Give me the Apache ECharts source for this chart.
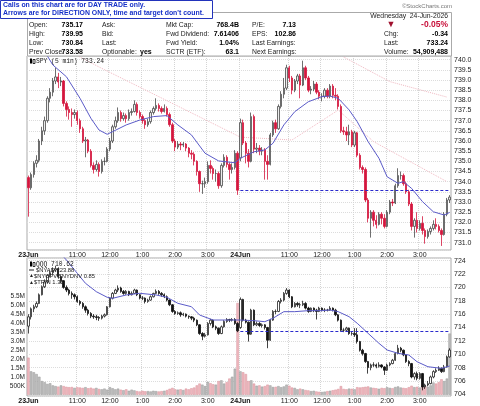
<!DOCTYPE html>
<html lang="en">
<head>
<meta charset="UTF-8">
<title>SPY (5 min)</title>
<script src="https://cdn.jsdelivr.net/npm/echarts@6.0.0/dist/echarts.min.js"></script>
<style>html,body{margin:0;background:#fff}#main{width:480px;height:406px}</style>
</head>
<body>
<div id="main"></div>
<script type="text/javascript">
// SPY 5-min bars: [open, close, low, high], 23Jun (0-77) and 24Jun (78-155)
var spyBars = [
[734.20,733.70,732.28,734.30],[733.70,734.35,733.60,734.45],[734.35,734.90,734.20,735.00],[734.90,735.05,734.70,735.30],
[735.05,736.00,734.95,736.10],[736.00,736.50,735.80,736.70],[736.50,737.00,736.30,737.20],[737.00,738.10,736.90,738.20],
[738.10,738.40,737.90,738.60],[738.40,738.95,738.20,739.10],[738.95,739.15,738.80,739.60],[739.15,738.90,738.60,739.35],
[738.90,738.95,738.70,739.15],[738.95,737.85,737.70,739.00],[737.85,737.55,737.20,737.95],[737.55,737.40,737.05,737.70],
[737.40,737.30,736.70,737.60],[737.30,737.40,737.10,737.55],[737.40,737.00,736.80,737.50],[737.00,736.60,736.40,737.10],
[736.60,736.00,735.90,736.70],[736.00,736.05,735.20,736.20],[736.05,735.50,735.40,736.10],[735.50,734.80,734.70,735.60],
[734.80,734.60,734.40,734.95],[734.60,734.85,734.50,735.05],[734.85,734.50,734.25,734.95],[734.50,735.00,734.40,735.10],
[735.00,735.00,734.80,735.20],[735.00,735.60,734.95,735.70],[735.60,736.00,735.50,736.15],[736.00,736.70,735.90,736.80],
[736.70,737.00,736.60,737.20],[737.00,737.40,736.90,737.65],[737.40,737.10,736.95,737.50],[737.10,737.25,737.00,737.40],
[737.25,737.10,736.90,737.35],[737.10,737.40,737.00,737.55],[737.40,737.45,737.25,737.60],[737.45,737.80,737.40,738.00],
[737.80,737.40,737.25,737.90],[737.40,737.20,737.10,737.50],[737.20,737.00,736.85,737.30],[737.00,736.80,736.60,737.10],
[736.80,736.95,736.70,737.10],[736.95,737.40,736.85,737.50],[737.40,737.60,737.30,737.70],[737.60,737.75,737.50,738.10],
[737.75,737.60,737.45,737.85],[737.60,737.45,737.35,737.70],[737.45,737.60,737.40,737.80],[737.60,737.30,737.20,737.70],
[737.30,736.80,736.70,737.40],[736.80,736.00,735.90,736.90],[736.00,735.70,735.50,736.10],[735.70,735.85,735.60,736.00],
[735.85,735.80,735.55,735.95],[735.80,735.85,735.70,735.95],[735.85,735.65,735.50,735.90],[735.65,735.40,735.20,735.70],
[735.40,735.35,735.10,735.55],[735.35,735.00,734.80,735.45],[735.00,734.50,734.30,735.05],[734.50,733.90,733.50,734.55],
[733.90,733.90,733.40,734.05],[733.90,734.00,733.70,734.20],[734.00,734.80,733.90,735.00],[734.80,734.65,734.40,735.05],
[734.65,734.40,734.10,734.75],[734.40,734.40,734.00,734.60],[734.40,733.80,733.65,734.50],[733.80,734.80,733.70,734.90],
[734.80,735.20,734.70,735.35],[735.20,734.85,734.70,735.30],[734.85,734.60,734.10,734.95],[734.60,734.70,734.40,734.90],
[734.70,735.40,734.60,735.55],[735.40,733.58,733.35,735.50],
[735.17,736.90,735.00,737.10],[736.90,735.90,735.80,737.05],[735.90,735.40,734.90,736.00],[735.40,735.00,734.70,735.60],
[735.00,737.20,734.95,737.40],[737.20,735.60,735.40,737.30],[735.60,735.65,735.40,735.90],[735.65,735.50,735.30,735.80],
[735.50,735.55,735.30,735.70],[735.55,735.00,734.10,735.65],[735.00,734.85,734.10,735.30],[734.85,736.30,734.80,736.40],
[736.30,736.90,736.20,737.00],[736.90,736.60,736.40,737.05],[736.60,737.70,736.55,737.80],[737.70,738.30,737.60,738.45],
[738.30,738.60,738.10,739.10],[738.60,739.60,738.50,739.75],[739.60,739.10,738.90,739.70],[739.10,738.50,738.30,739.20],
[738.50,738.95,738.40,739.05],[738.95,739.20,738.80,739.30],[739.20,738.75,738.10,739.30],[738.75,739.60,738.70,739.95],
[739.60,739.10,739.00,739.70],[739.10,738.50,738.40,739.20],[738.50,738.55,738.30,738.70],[738.55,738.80,738.45,738.95],
[738.80,738.40,738.30,738.90],[738.40,738.20,738.05,738.50],[738.20,738.20,737.95,738.35],[738.20,738.50,738.10,738.60],
[738.50,738.20,738.10,738.60],[738.20,738.70,738.10,738.80],[738.70,738.25,738.10,738.80],[738.25,738.20,738.00,738.60],
[738.20,737.70,737.55,738.30],[737.70,736.50,736.40,737.80],[736.50,736.45,736.30,736.70],[736.45,736.30,736.00,736.70],
[736.30,736.45,735.80,736.80],[736.45,735.80,735.70,736.55],[735.80,736.40,735.70,736.50],[736.40,735.30,735.20,736.45],
[735.30,734.70,734.60,735.40],[734.70,734.60,734.40,734.80],[734.60,733.10,733.00,734.70],[733.10,732.20,732.00,733.20],
[732.20,732.50,731.25,732.60],[732.50,732.10,731.80,732.60],[732.10,731.90,731.70,732.35],[731.90,732.40,731.85,732.50],
[732.40,732.20,731.90,732.50],[732.20,731.80,731.70,732.40],[731.80,732.50,731.75,732.60],[732.50,733.00,732.40,733.10],
[733.00,732.95,732.80,733.15],[732.95,733.80,732.90,733.90],[733.80,734.30,733.70,734.66],[734.30,734.30,734.10,734.50],
[734.30,733.90,733.80,734.40],[733.90,733.50,733.40,734.00],[733.50,732.90,732.80,733.60],[732.90,731.80,731.60,733.00],
[731.80,732.10,731.25,732.20],[732.10,731.70,731.50,732.50],[731.70,731.95,731.60,732.10],[731.95,731.60,731.40,732.30],
[731.60,731.30,730.95,731.70],[731.30,731.55,731.20,731.65],[731.55,731.70,731.40,731.80],[731.70,731.90,731.60,732.10],
[731.90,731.80,731.65,732.20],[731.80,731.60,731.50,731.90],[731.60,731.40,730.84,731.70],[731.40,732.40,731.35,732.50],
[732.40,733.10,732.30,733.20],[733.10,733.24,732.95,733.34]
];

// QQQ 5-min bars: [open, close, low, high]
var qqqBars = [
[714.2,715.6,713.1,716.0],[715.6,716.8,715.2,717.0],[716.8,717.1,716.3,717.4],[717.1,717.6,716.9,717.9],
[717.6,718.9,717.5,719.1],[718.9,720.1,718.8,720.3],[720.1,720.8,719.9,721.2],[720.8,721.8,720.6,722.0],
[721.8,722.2,721.5,722.5],[722.2,722.6,721.9,723.0],[722.6,722.8,722.3,723.2],[722.8,721.6,721.3,723.0],
[721.6,721.0,720.6,721.8],[721.0,720.0,719.8,721.1],[720.0,719.6,719.3,720.3],[719.6,719.1,718.8,719.8],
[719.1,718.9,718.3,719.4],[718.9,718.6,718.2,719.1],[718.6,717.9,717.7,718.8],[717.9,717.6,717.3,718.1],
[717.6,717.1,716.8,717.8],[717.1,716.6,716.2,717.3],[716.6,716.1,715.8,716.8],[716.1,715.7,715.4,716.3],
[715.7,715.6,715.3,716.0],[715.6,715.5,715.1,715.9],[715.5,715.4,715.0,715.7],[715.4,715.7,715.2,715.9],
[715.7,715.9,715.5,716.1],[715.9,717.1,715.8,717.2],[717.1,718.4,717.0,718.5],[718.4,719.1,718.2,719.3],
[719.1,719.6,719.0,719.8],[719.6,719.9,719.3,720.3],[719.9,719.4,719.2,720.1],[719.4,719.1,718.9,719.6],
[719.1,719.4,718.9,719.6],[719.4,718.9,718.7,719.5],[718.9,719.1,718.8,719.4],[719.1,719.6,719.0,719.8],
[719.6,718.9,718.7,719.7],[718.9,718.4,718.2,719.0],[718.4,718.4,718.1,718.7],[718.4,717.9,717.6,718.5],
[717.9,718.1,717.7,718.3],[718.1,718.6,718.0,718.8],[718.6,719.1,718.5,719.2],[719.1,719.4,719.0,719.7],
[719.4,719.1,718.9,719.6],[719.1,718.9,718.6,719.3],[718.9,718.6,718.4,719.1],[718.6,718.1,717.9,718.8],
[718.1,717.4,717.2,718.2],[717.4,716.4,716.2,717.5],[716.4,716.1,715.9,716.6],[716.1,716.2,715.9,716.4],
[716.2,715.9,715.6,716.4],[715.9,716.0,715.7,716.2],[716.0,715.7,715.5,716.1],[715.7,715.6,715.3,715.8],
[715.6,715.4,715.1,715.7],[715.4,715.1,714.8,715.6],[715.1,714.4,714.2,715.2],[714.4,713.1,712.9,714.5],
[713.1,712.7,712.1,713.3],[712.7,712.9,712.5,713.2],[712.9,714.6,712.8,714.8],[714.6,715.1,714.3,715.3],
[715.1,714.1,713.9,715.2],[714.1,713.9,713.6,714.3],[713.9,713.1,712.9,714.0],[713.1,714.1,713.0,714.3],
[714.1,714.9,714.0,715.1],[714.9,715.2,714.7,715.4],[715.2,715.1,714.8,715.3],[715.1,715.2,714.9,715.4],
[715.2,714.6,714.4,715.4],[714.6,713.5,713.3,714.8],
[714.0,718.2,713.8,718.5],[718.2,715.1,714.9,718.3],[715.1,714.8,714.6,715.3],[714.8,713.0,711.9,714.9],
[713.0,716.6,712.9,716.8],[716.6,714.4,714.2,716.7],[714.4,714.6,714.2,714.9],[714.6,714.3,714.1,714.8],
[714.3,714.4,714.0,714.6],[714.4,714.0,713.7,714.5],[714.0,712.1,710.9,714.1],[712.1,715.1,712.0,715.3],
[715.1,716.4,715.0,716.6],[716.4,716.4,716.0,716.7],[716.4,717.9,716.3,718.1],[717.9,718.1,717.6,718.4],
[718.1,719.1,717.9,719.3],[719.1,719.6,718.9,719.9],[719.6,718.6,718.4,719.7],[718.6,717.1,716.9,718.7],
[717.1,717.6,717.0,717.8],[717.6,717.4,717.1,717.8],[717.4,717.4,716.9,717.7],[717.4,717.6,717.2,718.0],
[717.6,716.9,716.7,717.8],[716.9,716.4,716.2,717.1],[716.4,716.9,716.3,717.0],[716.9,716.6,716.3,717.0],
[716.6,716.4,715.2,716.8],[716.4,716.9,716.3,717.1],[716.9,716.6,716.4,717.0],[716.6,716.6,716.3,716.9],
[716.6,716.6,716.4,716.8],[716.6,716.9,716.5,717.2],[716.9,716.6,716.4,717.0],[716.6,715.9,715.7,716.8],
[715.9,715.1,714.9,716.0],[715.1,713.6,713.4,715.2],[713.6,713.6,713.3,713.9],[713.6,713.9,713.4,714.1],
[713.9,713.1,712.9,714.0],[713.1,713.1,712.8,713.4],[713.1,712.9,712.6,713.9],[712.9,711.9,711.6,713.9],
[711.9,710.6,710.4,712.0],[710.6,710.1,709.8,710.8],[710.1,708.9,708.7,710.2],[708.9,708.0,707.1,709.0],
[708.0,708.4,707.6,708.6],[708.4,708.4,708.1,708.8],[708.4,708.2,707.9,708.6],[708.2,708.4,708.0,708.8],
[708.4,708.1,707.9,708.5],[708.1,707.6,706.9,708.2],[707.6,708.4,707.5,708.6],[708.4,708.6,708.2,708.8],
[708.6,709.1,708.5,709.3],[709.1,710.1,709.0,710.3],[710.1,710.9,710.0,711.4],[710.9,710.6,710.3,711.1],
[710.6,709.9,709.7,710.7],[709.9,708.9,708.7,710.0],[708.9,708.6,708.2,709.1],[708.6,706.6,706.4,708.7],
[706.6,707.1,706.2,707.3],[707.1,706.4,706.1,707.4],[706.4,707.1,706.2,707.3],[707.1,705.1,704.6,707.2],
[705.1,705.4,704.8,705.6],[705.4,705.6,705.2,706.0],[705.6,706.6,705.5,706.8],[706.6,707.4,706.4,707.6],
[707.4,707.6,707.2,707.9],[707.6,707.9,707.5,708.2],[707.9,707.4,707.2,708.0],[707.4,708.1,707.3,708.4],
[708.1,709.6,708.0,709.8],[709.6,710.62,709.5,710.9]
];

// SPY volume per bar, thousands of shares
var volumeK = [
2060,1300,1250,1150,1000,760,700,600,640,520,480,450,520,480,440,420,430,380,420,400,
380,420,360,390,340,380,320,300,340,280,420,360,300,340,280,250,300,220,280,240,
200,180,220,190,200,180,220,200,180,200,220,260,330,380,300,280,300,260,340,300,
360,400,520,620,560,480,720,640,580,560,760,800,620,700,900,1000,1450,5100,
1300,1250,1150,760,800,620,500,520,450,480,560,520,430,440,480,420,460,560,500,400,
380,300,340,300,260,240,200,220,180,160,150,170,200,220,250,280,320,480,320,300,
340,330,300,420,400,420,440,460,400,380,360,330,380,360,420,380,360,430,460,400,
380,360,420,500,420,440,400,520,480,440,520,680,620,700,860,760,900,3400
];

// moving averages: [bar index, value]
var spyMa = [[6,740.40],[9,739.74],[14,739.16],[19,738.10],[23,737.12],[26,736.54],[29,736.33],[31,736.46],[36,736.79],
  [41,737.03],[46,737.20],[51,737.25],[55,736.79],[60,736.30],[65,735.40],[70,735.02],[76,734.93],[78,735.15],
  [83,735.47],[87,735.56],[90,735.89],[94,736.79],[98,737.44],[103,737.93],[108,738.18],[111,738.21],[114,738.10],
  [118,737.53],[121,736.95],[125,735.97],[129,735.15],[132,734.24],[136,733.92],[138,734.00],[141,733.67],
  [145,733.02],[149,732.52],[153,732.36],[155,732.49]];
var spySlowA = [[18,740.20],[26,739.64],[78,736.19],[97,736.05],[114,737.52],[127,735.97],[154,734.00]];
var spySlowB = [[116,740.13],[133,738.92],[154,738.16]];
var qqqMa = [[12,725.0],[14,724.1],[18,722.11],[21,720.62],[25,719.36],[29,718.52],[31,718.37],[36,718.87],[41,719.12],
  [47,718.87],[51,718.52],[55,717.62],[60,717.11],[63,715.87],[68,715.12],[73,715.12],[78,715.12],[83,715.02],
  [87,714.87],[90,715.38],[94,716.37],[98,716.37],[103,716.52],[108,716.52],[111,716.62],[114,716.37],[118,715.62],
  [121,714.63],[125,713.13],[129,711.63],[132,710.63],[136,710.14],[140,709.88],[143,708.88],[147,708.13],
  [152,707.89],[155,708.24]];

var spyPrevClose = 733.58;
var qqqPrevClose = 713.5;

// x axis ticks
var tickIndex = [0, 18, 30, 42, 54, 66, 78, 96, 108, 120, 132, 144];
var tickText = ['23Jun', '11:00', '12:00', '1:00', '2:00', '3:00', '24Jun', '11:00', '12:00', '1:00', '2:00', '3:00'];

// header table
var rowY = [25, 34, 43, 52];
var col1Labels = ['Open:', 'High:', 'Low:', 'Prev Close:'];
var col1Vals = ['735.17', '739.95', '730.84', '733.58'];
var col2Labels = ['Ask:', 'Bid:', 'Last:', 'Optionable:'];
var col3Labels = ['Mkt Cap:', 'Fwd Dividend:', 'Fwd Yield:', 'SCTR (ETF):'];
var col3Vals = ['768.4B', '7.61406', '1.04%', '63.1'];
var col4Labels = ['P/E:', 'EPS:', 'Last Earnings:', 'Next Earnings:'];
var col4Vals = ['7.13', '102.86', '', ''];

var cats = [];
for (var i = 0; i < spyBars.length; i++) cats.push('b' + i);
var labelMap = {};
tickIndex.forEach(function (t, k) { labelMap['b' + t] = tickText[k]; });

var SANS = '"Liberation Sans", Arial, sans-serif';
var MONO = '"Liberation Mono", "DejaVu Sans Mono", monospace';

function txt(x, y, s, font, color, align) {
    return {type: 'text', x: x, y: y, silent: true, z: 20,
        style: {text: s, font: font, fill: color || '#222', textAlign: align || 'left', textVerticalAlign: 'middle'}};
}

var lblFont = '6.8px ' + SANS;
var valFont = 'bold 7px ' + SANS;
var gfx = [];
gfx.push({type: 'rect', shape: {x: 27.5, y: 12.5, width: 424, height: 43.5}, style: {fill: '#fff', stroke: '#aaa', lineWidth: 1}, z: 10});
for (var r = 0; r < 4; r++) {
    gfx.push(txt(29, rowY[r], col1Labels[r], lblFont));
    gfx.push(txt(83, rowY[r], col1Vals[r], valFont, '#000', 'right'));
    gfx.push(txt(102, rowY[r], col2Labels[r], lblFont));
    gfx.push(txt(166, rowY[r], col3Labels[r], lblFont));
    gfx.push(txt(239, rowY[r], col3Vals[r], valFont, '#000', 'right'));
    gfx.push(txt(252, rowY[r], col4Labels[r], lblFont));
    gfx.push(txt(296, rowY[r], col4Vals[r], valFont, '#000', 'right'));
}
gfx.push(txt(140, rowY[3], 'yes', valFont, '#000'));
gfx.push(txt(448, 16, 'Wednesday  24-Jun-2026', lblFont, '#222', 'right'));
gfx.push(txt(391, 25, '\u25BC', '9px ' + SANS, '#a0102e', 'center'));
gfx.push(txt(448, 25, '-0.05%', 'bold 8.5px ' + SANS, '#c8103a', 'right'));
gfx.push(txt(384, 34, 'Chg:', lblFont));
gfx.push(txt(448, 34, '-0.34', valFont, '#000', 'right'));
gfx.push(txt(384, 43, 'Last:', lblFont));
gfx.push(txt(448, 43, '733.24', valFont, '#000', 'right'));
gfx.push(txt(384, 52, 'Volume:', lblFont));
gfx.push(txt(448, 52, '54,909,488', valFont, '#000', 'right'));
gfx.push(txt(452, 6, '\u00A9StockCharts.com', '6px ' + SANS, '#777', 'right'));
// call-out box
gfx.push({type: 'rect', shape: {x: 0.5, y: 0.5, width: 212, height: 18}, style: {fill: '#fff', stroke: '#2233bb', lineWidth: 1}, z: 30});
gfx.push({type: 'text', x: 3, y: 5.5, z: 31, silent: true, style: {text: 'Calls on this chart are for DAY TRADE only.', font: 'bold 6.9px ' + SANS, fill: '#1530c8', textVerticalAlign: 'middle'}});
gfx.push({type: 'text', x: 3, y: 13.5, z: 31, silent: true, style: {text: 'Arrows are for DIRECTION ONLY, time and target don\'t count.', font: 'bold 6.9px ' + SANS, fill: '#1530c8', textVerticalAlign: 'middle'}});
// panel legends
function candleIcon(x, y) {
    return [
        {type: 'rect', shape: {x: x, y: y - 2.5, width: 2, height: 5}, style: {fill: '#000'}, z: 20},
        {type: 'rect', shape: {x: x + 3, y: y - 1.5, width: 2, height: 4}, style: {fill: '#fff', stroke: '#000', lineWidth: 0.8}, z: 20}
    ];
}
gfx = gfx.concat(candleIcon(30, 61));
gfx.push(txt(36, 61, 'SPY (5 min) 733.24', '6.3px ' + MONO, '#222'));
gfx = gfx.concat(candleIcon(30, 264));
gfx.push(txt(36, 264, 'QQQ 710.62', '6.3px ' + MONO, '#222'));
gfx.push({type: 'line', shape: {x1: 29, y1: 270, x2: 34, y2: 270}, style: {stroke: '#222', lineWidth: 1}, z: 20});
gfx.push(txt(36, 270, '$NYAD 223.88', '5.8px ' + SANS, '#222'));
gfx.push(txt(29, 276, '\u25B2', '5px ' + SANS, '#222'));
gfx.push(txt(34, 276, '$NYUPV:$NYDNV 0.85', '5.8px ' + SANS, '#222'));
gfx.push(txt(29, 282.5, '\u25B2', '5px ' + SANS, '#222'));
gfx.push(txt(34, 282.5, '$TRIN 1.38', '5.8px ' + SANS, '#222'));

function isTick(idx) { return tickIndex.indexOf(idx) >= 0; }
function isGridTick(idx) { return idx > 0 && tickIndex.indexOf(idx) >= 0; }
function xLabel(v) {
    var s = labelMap[v] || '';
    return /Jun/.test(s) ? '{b|' + s + '}' : s;
}
function xAxisFor(g) {
    return {
        type: 'category', gridIndex: g, data: cats, boundaryGap: true,
        axisLine: {show: false}, axisTick: {show: false},
        axisLabel: {interval: isTick, formatter: xLabel, fontSize: 7, fontFamily: SANS, color: '#222', margin: 2,
            rich: {b: {fontWeight: 'bold', fontSize: 7, fontFamily: SANS, color: '#111'}}},
        splitLine: {show: true, interval: isGridTick, lineStyle: {color: '#d4d4d4', type: 'dotted', width: 1}}
    };
}
function volLabel(v) {
    if (v <= 0 || v > 5500000) return '';
    if (v < 1000000) return (v / 1000) + 'K';
    return (v / 1000000).toFixed(1) + 'M';
}

var volData = volumeK.map(function (v, i) {
    var down = spyBars[i][1] < spyBars[i][0];
    return {value: v * 1000, itemStyle: {color: down ? '#efb7be' : '#bdbdbd', borderColor: down ? '#d9949d' : '#9a9a9a', borderWidth: 0.5}};
});

var myChart = echarts.init(document.getElementById('main'), null, {renderer: 'canvas'});
var option = {
    animation: false,
    backgroundColor: '#fff',
    graphic: gfx,
    grid: [
        {left: 27, top: 56, width: 424, height: 194, show: true, borderColor: '#aaa', borderWidth: 1, backgroundColor: '#fff'},
        {left: 27, top: 258, width: 424, height: 138, show: true, borderColor: '#aaa', borderWidth: 1, backgroundColor: '#fff'}
    ],
    xAxis: [xAxisFor(0), xAxisFor(1)],
    yAxis: [
        {type: 'value', gridIndex: 0, position: 'right', min: 730.64, max: 740.18, splitNumber: 19,
            minInterval: 0.5, maxInterval: 0.5, scale: true,
            axisLine: {show: false}, axisTick: {show: false},
            axisLabel: {fontSize: 7, fontFamily: SANS, color: '#222', margin: 3, showMinLabel: false, showMaxLabel: false,
                formatter: function (v) { return v.toFixed(1); }},
            splitLine: {lineStyle: {color: '#dcdcdc', type: 'dotted'}}},
        {type: 'value', gridIndex: 1, position: 'right', min: 703.75, max: 724.4, splitNumber: 10,
            minInterval: 2, maxInterval: 2, scale: true,
            axisLine: {show: false}, axisTick: {show: false},
            axisLabel: {fontSize: 7, fontFamily: SANS, color: '#222', margin: 3, showMinLabel: false, showMaxLabel: false},
            splitLine: {lineStyle: {color: '#dcdcdc', type: 'dotted'}}},
        {type: 'value', gridIndex: 1, position: 'left', min: -72000, max: 7600000, splitNumber: 15,
            minInterval: 500000, maxInterval: 500000,
            axisLine: {show: false}, axisTick: {show: false},
            axisLabel: {fontSize: 6.5, fontFamily: SANS, color: '#222', margin: 2, formatter: volLabel,
                showMinLabel: false, showMaxLabel: false},
            splitLine: {show: false}}
    ],
    series: [
        {type: 'line', xAxisIndex: 0, yAxisIndex: 0, data: spySlowA, symbol: 'none', silent: true, z: 1,
            lineStyle: {color: '#f0b9c2', width: 1, type: 'dotted'}},
        {type: 'line', xAxisIndex: 0, yAxisIndex: 0, data: spySlowB, symbol: 'none', silent: true, z: 1,
            lineStyle: {color: '#f0b9c2', width: 1, type: 'dotted'}},
        {type: 'candlestick', xAxisIndex: 0, yAxisIndex: 0, data: spyBars, barWidth: '70%', z: 3,
            itemStyle: {color: '#ececec', color0: '#d4163e', borderColor: '#4a4a4a', borderColor0: '#d4163e', borderWidth: 0.8},
            markLine: {silent: true, symbol: 'none', label: {show: false},
                lineStyle: {color: '#2a2acc', type: [3, 2], width: 1},
                data: [[{coord: [78, spyPrevClose]}, {coord: [155, spyPrevClose]}]]}},
        {type: 'line', xAxisIndex: 0, yAxisIndex: 0, data: spyMa, symbol: 'none', silent: true, z: 4,
            lineStyle: {color: '#5b5bc8', width: 1}},
        {type: 'bar', xAxisIndex: 1, yAxisIndex: 2, data: volData, barCategoryGap: '8%', silent: true, z: 1},
        {type: 'candlestick', xAxisIndex: 1, yAxisIndex: 1, data: qqqBars, barWidth: '70%', z: 3,
            itemStyle: {color: '#ffffff', color0: '#111111', borderColor: '#222222', borderColor0: '#111111', borderWidth: 0.8},
            markLine: {silent: true, symbol: 'none', label: {show: false},
                lineStyle: {color: '#2a2acc', type: [3, 2], width: 1},
                data: [[{coord: [78, qqqPrevClose]}, {coord: [155, qqqPrevClose]}]]}},
        {type: 'line', xAxisIndex: 1, yAxisIndex: 1, data: qqqMa, symbol: 'none', silent: true, z: 4,
            lineStyle: {color: '#5b5bc8', width: 1}}
    ]
};
myChart.setOption(option);
</script>
</body>
</html>
